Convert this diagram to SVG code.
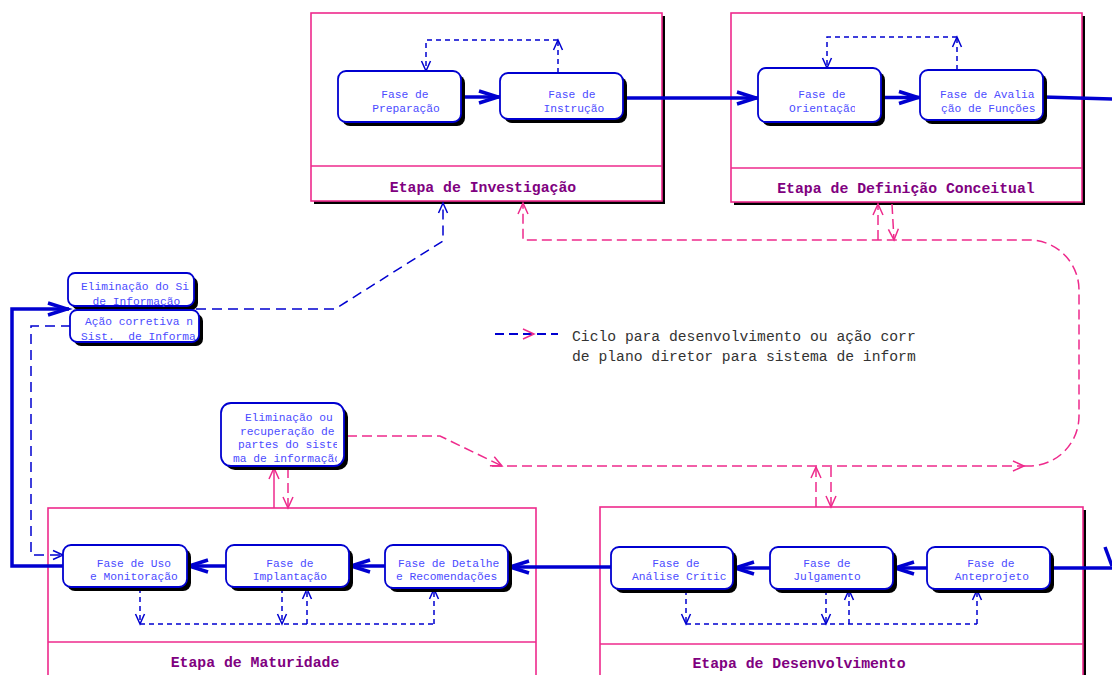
<svg xmlns="http://www.w3.org/2000/svg" width="1112" height="675" viewBox="0 0 1112 675">
<style>
.stage{fill:#fff;stroke:#ee2a8c;stroke-width:1.6}
.sh{fill:#000}
.div{stroke:#ee2a8c;stroke-width:1.6}
.title{font-family:"Liberation Mono","DejaVu Sans Mono",monospace;font-weight:bold;font-size:14.8px;fill:#800080;text-anchor:middle}
.node{fill:#fff;stroke:#0000d0;stroke-width:1.8}
.nt{font-family:"Liberation Mono","DejaVu Sans Mono",monospace;font-size:11.25px;fill:#4b4bff}
.c{text-anchor:middle}
.thick{fill:none;stroke:#0000d0;stroke-width:3.5}
.bd{fill:none;stroke:#0000d0;stroke-width:1.5;stroke-dasharray:5 4}
.bl{fill:none;stroke:#0000d0;stroke-width:1.5;stroke-dasharray:10 6}
.pd{fill:none;stroke:#ee2a8c;stroke-width:1.5;stroke-dasharray:10 5}
.ps{fill:none;stroke:#ee2a8c;stroke-width:1.5}
.leg{font-family:"Liberation Mono","DejaVu Sans Mono",monospace;font-size:14.7px;fill:#333}
</style>
<defs>
<marker id="ah" markerUnits="userSpaceOnUse" markerWidth="24" markerHeight="16" refX="22" refY="7" orient="auto" overflow="visible"><path d="M1,1 L20,7 L1,13" fill="none" stroke="#0000d0" stroke-width="3.5"/></marker>
<marker id="ad" markerUnits="userSpaceOnUse" markerWidth="12" markerHeight="10" refX="10" refY="4.5" orient="auto" overflow="visible"><path d="M0,0 L10,4.5 L0,9" fill="none" stroke="#0000d0" stroke-width="1.5"/></marker>
<marker id="ap" markerUnits="userSpaceOnUse" markerWidth="12" markerHeight="12" refX="11" refY="5" orient="auto" overflow="visible"><path d="M0,0 L11,5 L0,10" fill="none" stroke="#ee2a8c" stroke-width="1.5"/></marker>
<clipPath id="cOr"><rect x="758" y="68" width="97" height="54"/></clipPath>
<clipPath id="cEs"><rect x="68" y="273" width="122" height="34"/></clipPath>
<clipPath id="cAc"><rect x="70" y="310" width="126" height="33"/></clipPath>
<clipPath id="cEo"><rect x="221" y="403" width="116" height="63"/></clipPath>
<clipPath id="cDe"><rect x="385" y="545" width="114" height="43"/></clipPath>
<clipPath id="cAn"><rect x="611" y="547" width="115" height="42"/></clipPath>
<clipPath id="cLg"><rect x="560" y="320" width="356" height="50"/></clipPath>
</defs>

<!-- stages -->
<g id="etapa-investigacao">
<rect class="sh" x="314" y="16" width="351" height="188"/>
<rect class="stage" x="311" y="13" width="351" height="188"/>
<line class="div" x1="311" y1="166" x2="662" y2="166"/>
<text class="title" x="483" y="192">Etapa de Investigação</text>
</g>
<g id="etapa-definicao">
<rect class="sh" x="734" y="16" width="351" height="189"/>
<rect class="stage" x="731" y="13" width="351" height="189"/>
<line class="div" x1="731" y1="168" x2="1082" y2="168"/>
<text class="title" x="906" y="193">Etapa de Definição Conceitual</text>
</g>
<g id="etapa-maturidade">
<rect class="stage" x="48" y="508" width="488" height="190"/>
<line class="div" x1="48" y1="642" x2="536" y2="642"/>
<text class="title" x="255" y="666.5">Etapa de Maturidade</text>
</g>
<g id="etapa-desenvolvimento">
<rect class="sh" x="603" y="510" width="483" height="190"/>
<rect class="stage" x="600" y="507" width="483" height="190"/>
<line class="div" x1="600" y1="644" x2="1083" y2="644"/>
<text class="title" x="799" y="668">Etapa de Desenvolvimento</text>
</g>

<!-- connectors -->
<g id="connectors">
<line class="thick" x1="461" y1="97" x2="500" y2="97" marker-end="url(#ah)"/>
<line class="thick" x1="623" y1="98" x2="758" y2="98" marker-end="url(#ah)"/>
<line class="thick" x1="881" y1="97.5" x2="920" y2="97.5" marker-end="url(#ah)"/>
<line class="thick" x1="1043" y1="97" x2="1114" y2="99"/>
<line class="thick" x1="1105" y1="547" x2="1112" y2="566"/>
<line class="thick" x1="1114" y1="568" x2="1050" y2="568"/>
<line class="thick" x1="927" y1="568" x2="893" y2="568" marker-end="url(#ah)"/>
<line class="thick" x1="770" y1="568" x2="733" y2="568" marker-end="url(#ah)"/>
<line class="thick" x1="611" y1="567" x2="508" y2="567" marker-end="url(#ah)"/>
<line class="thick" x1="385" y1="566" x2="349" y2="566" marker-end="url(#ah)"/>
<line class="thick" x1="226" y1="566" x2="187" y2="566" marker-end="url(#ah)"/>
<polyline class="thick" points="63,566 12,566 12,309 69,309" marker-end="url(#ah)"/>

<line class="bd" x1="558" y1="73" x2="558" y2="40" marker-end="url(#ad)"/>
<polyline class="bd" points="558,40 426,40 426,71" marker-end="url(#ad)"/>
<line class="bd" x1="957" y1="70" x2="957" y2="37" marker-end="url(#ad)"/>
<polyline class="bd" points="957,37 827,37 827,68" marker-end="url(#ad)"/>

<line class="bd" x1="140" y1="588" x2="140" y2="624" marker-end="url(#ad)"/>
<line class="bd" x1="282" y1="588" x2="282" y2="624" marker-end="url(#ad)"/>
<polyline class="bd" points="140,624 434,624"/>
<line class="bd" x1="307" y1="624" x2="307" y2="589" marker-end="url(#ad)"/>
<line class="bd" x1="434" y1="624" x2="434" y2="589" marker-end="url(#ad)"/>

<line class="bd" x1="686" y1="590" x2="686" y2="624" marker-end="url(#ad)"/>
<line class="bd" x1="826" y1="590" x2="826" y2="624" marker-end="url(#ad)"/>
<polyline class="bd" points="686,624 977,624"/>
<line class="bd" x1="849" y1="624" x2="849" y2="590" marker-end="url(#ad)"/>
<line class="bd" x1="977" y1="624" x2="977" y2="590" marker-end="url(#ad)"/>

<polyline class="bl" points="196,309 335,309 443,241 443,203" marker-end="url(#ad)"/>
<polyline class="bl" points="71,326 31,326 31,555 63,555" marker-end="url(#ad)"/>

<polyline class="pd" points="347,436 440,436 502,466" marker-end="url(#ap)"/>
<line class="pd" x1="492" y1="466" x2="1024" y2="466" marker-end="url(#ap)"/>
<path class="pd" d="M1024,466 L1029,466 A50,50 0 0 0 1079,416 L1079,290 A50,50 0 0 0 1029,240 L523,240 L523,203" marker-end="url(#ap)"/>
<line class="pd" x1="878" y1="240" x2="878" y2="204" marker-end="url(#ap)"/>
<line class="pd" x1="892" y1="204" x2="894" y2="240" marker-end="url(#ap)"/>
<line class="pd" x1="816" y1="507" x2="816" y2="467" marker-end="url(#ap)"/>
<line class="pd" x1="831" y1="467" x2="831" y2="507" marker-end="url(#ap)"/>
<line class="ps" x1="274" y1="508" x2="274" y2="468" marker-end="url(#ap)"/>
<line class="pd" x1="288" y1="468" x2="288" y2="508" marker-end="url(#ap)"/>
</g>

<!-- nodes -->
<g id="fase-preparacao">
<rect class="sh" x="342" y="75" width="123" height="51" rx="8"/>
<rect class="node" x="338" y="71" width="123" height="51" rx="8"/>
<text class="nt c" x="405" y="98">Fase de</text>
<text class="nt c" x="406" y="112">Preparação</text>
</g>
<g id="fase-instrucao">
<rect class="sh" x="504" y="77" width="123" height="46" rx="8"/>
<rect class="node" x="500" y="73" width="123" height="46" rx="8"/>
<text class="nt c" x="572" y="98">Fase de</text>
<text class="nt c" x="574" y="112">Instrução</text>
</g>
<g id="fase-orientacao">
<rect class="sh" x="762" y="72" width="123" height="54" rx="8"/>
<rect class="node" x="758" y="68" width="123" height="54" rx="8"/>
<text class="nt c" x="822" y="98">Fase de</text>
<text class="nt" x="789" y="112" clip-path="url(#cOr)">Orientação</text>
</g>
<g id="fase-avaliacao">
<rect class="sh" x="924" y="74" width="123" height="50" rx="8"/>
<rect class="node" x="920" y="70" width="123" height="50" rx="8"/>
<text class="nt" x="940" y="98">Fase de Avalia</text>
<text class="nt" x="941" y="112">ção de Funções</text>
</g>
<g id="eliminacao-sistema">
<rect class="sh" x="72" y="277" width="126" height="33" rx="7"/>
<rect class="node" x="68" y="273" width="126" height="33" rx="7"/>
<g clip-path="url(#cEs)">
<text class="nt" x="81" y="289.5">Eliminação do Si</text>
<text class="nt c" x="136.5" y="304.5">de Informação</text>
</g>
</g>
<g id="acao-corretiva">
<rect class="sh" x="74" y="314" width="129" height="32" rx="7"/>
<rect class="node" x="70" y="310" width="129" height="32" rx="7"/>
<g clip-path="url(#cAc)">
<text class="nt" x="85" y="324.5" xml:space="preserve">Ação corretiva n</text>
<text class="nt" x="81" y="340" xml:space="preserve">Sist.  de Informa</text>
</g>
</g>
<g id="eliminacao-recuperacao">
<rect class="sh" x="225" y="407" width="123" height="63" rx="10"/>
<rect class="node" x="221" y="403" width="123" height="63" rx="10"/>
<g clip-path="url(#cEo)">
<text class="nt" x="245" y="421">Eliminação ou</text>
<text class="nt" x="240" y="434.5">recuperação de</text>
<text class="nt" x="238" y="448">partes do siste</text>
<text class="nt" x="233" y="461.5">ma de informação</text>
</g>
</g>
<g id="fase-uso">
<rect class="sh" x="67" y="549" width="124" height="42" rx="8"/>
<rect class="node" x="63" y="545" width="124" height="42" rx="8"/>
<text class="nt c" x="134" y="566.5">Fase de Uso</text>
<text class="nt c" x="134" y="580">e Monitoração</text>
</g>
<g id="fase-implantacao">
<rect class="sh" x="230" y="549" width="123" height="42" rx="8"/>
<rect class="node" x="226" y="545" width="123" height="42" rx="8"/>
<text class="nt c" x="290" y="566.5">Fase de</text>
<text class="nt c" x="290" y="580">Implantação</text>
</g>
<g id="fase-detalhe">
<rect class="sh" x="389" y="549" width="123" height="43" rx="8"/>
<rect class="node" x="385" y="545" width="123" height="43" rx="8"/>
<g clip-path="url(#cDe)">
<text class="nt" x="398" y="566.5">Fase de Detalhe</text>
<text class="nt" x="396" y="580">e Recomendações</text>
</g>
</g>
<g id="fase-analise">
<rect class="sh" x="615" y="551" width="122" height="42" rx="8"/>
<rect class="node" x="611" y="547" width="122" height="42" rx="8"/>
<text class="nt c" x="676" y="566.5">Fase de</text>
<text class="nt" x="632" y="580" clip-path="url(#cAn)">Análise Crítica</text>
</g>
<g id="fase-julgamento">
<rect class="sh" x="774" y="551" width="123" height="42" rx="8"/>
<rect class="node" x="770" y="547" width="123" height="42" rx="8"/>
<text class="nt c" x="827" y="566.5">Fase de</text>
<text class="nt c" x="827" y="580">Julgamento</text>
</g>
<g id="fase-anteprojeto">
<rect class="sh" x="931" y="551" width="123" height="42" rx="8"/>
<rect class="node" x="927" y="547" width="123" height="42" rx="8"/>
<text class="nt c" x="991" y="566.5">Fase de</text>
<text class="nt c" x="992" y="580">Anteprojeto</text>
</g>

<!-- legend -->
<g id="legenda">
<line x1="495" y1="334" x2="558" y2="334" stroke="#0000d0" stroke-width="1.8" stroke-dasharray="9 5"/>
<polyline points="523,329 534,334 523,339" fill="none" stroke="#ee2a8c" stroke-width="1.5"/>
<g clip-path="url(#cLg)">
<text class="leg" x="572" y="341">Ciclo para desenvolvimento ou ação corretiva</text>
<text class="leg" x="572" y="361">de plano diretor para sistema de informação</text>
</g>
</g>
</svg>
